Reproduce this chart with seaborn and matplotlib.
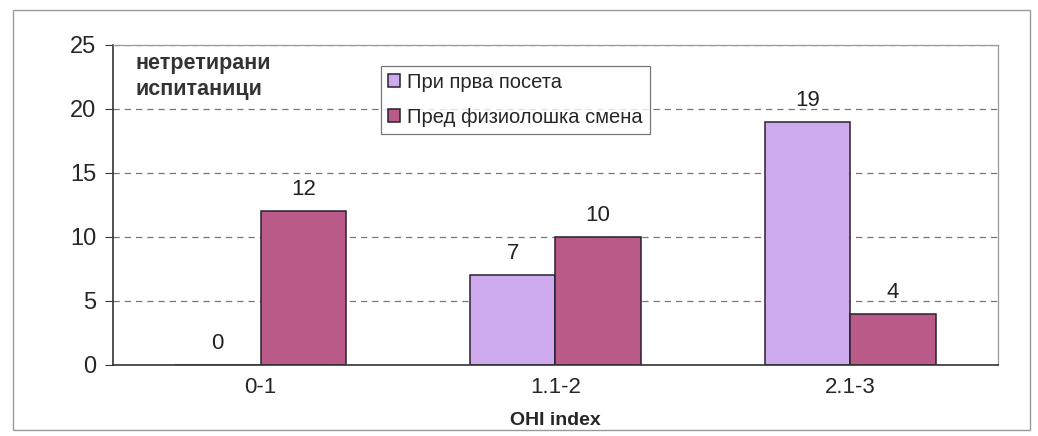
import numpy as np
import pandas as pd
import seaborn as sns
from matplotlib import pyplot as plt
from matplotlib.patches import Rectangle

# data
categories = ["0-1", "1.1-2", "2.1-3"]
series_names = ["При прва посета", "Пред физиолошка смена"]
first_visit = [0, 7, 19]
before_change = [12, 10, 4]

df = pd.DataFrame({
    "OHI": categories * 2,
    "count": first_visit + before_change,
    "group": [series_names[0]] * 3 + [series_names[1]] * 3,
})

sns.set_style("white")
plt.rcParams["font.family"] = ["Liberation Sans", "DejaVu Sans"]

fig = plt.figure(figsize=(10.38, 4.36), dpi=100)
ax = fig.add_axes([0.109, 0.163, 0.852, 0.734])

palette = {series_names[0]: "#CDA9EE", series_names[1]: "#B95A88"}
sns.barplot(data=df, x="OHI", y="count", hue="group", palette=palette,
            width=0.58, saturation=1, edgecolor="#2a2030", linewidth=1.1,
            ax=ax, legend=True)

for cont in ax.containers:
    ax.bar_label(cont, fontsize=16, padding=8, color="#222222")

ax.set_ylim(0, 25)
ax.set_yticks(range(0, 26, 5))
ax.set_xlim(-0.5, 2.5)
ax.yaxis.grid(True, linestyle=(0, (5, 4)), color="#777777", linewidth=0.9)
ax.set_axisbelow(True)

# tick marks between categories
ax.set_xticks([0.5, 1.5, 2.5], minor=True)
ax.tick_params(axis="x", which="major", length=0, labelsize=16, pad=9)
ax.tick_params(axis="x", which="minor", length=6, color="#333333", direction="out")
ax.tick_params(axis="y", length=6, color="#333333", direction="out", labelsize=17, pad=6, left=True)

for s in ["left", "bottom"]:
    ax.spines[s].set_color("#333333")
    ax.spines[s].set_linewidth(1.2)
for s in ["top", "right"]:
    ax.spines[s].set_color("#999999")
    ax.spines[s].set_linewidth(0.9)

ax.set_xlabel("OHI index", fontsize=14, fontweight="bold", labelpad=10)
ax.set_ylabel("")

ax.text(0.025, 0.975, "нетретирани\nиспитаници", transform=ax.transAxes,
        fontsize=15.5, fontweight="bold", va="top", ha="left", color="#333333",
        linespacing=1.3)

leg = ax.legend(loc="upper left", bbox_to_anchor=(0.303, 0.935), fontsize=14.5,
                frameon=True, fancybox=False, edgecolor="#555555",
                handlelength=0.6, handleheight=0.6, handletextpad=0.35,
                borderpad=0.35, labelspacing=0.8, borderaxespad=0)
leg.get_frame().set_linewidth(0.9)

# outer frame of the chart area
fig.patches.append(Rectangle((13 / 1038, 6 / 436), 1017 / 1038, 420 / 436,
                             transform=fig.transFigure, fill=False,
                             edgecolor="#999999", linewidth=1.0))

fig.savefig("out.png", dpi=100)
